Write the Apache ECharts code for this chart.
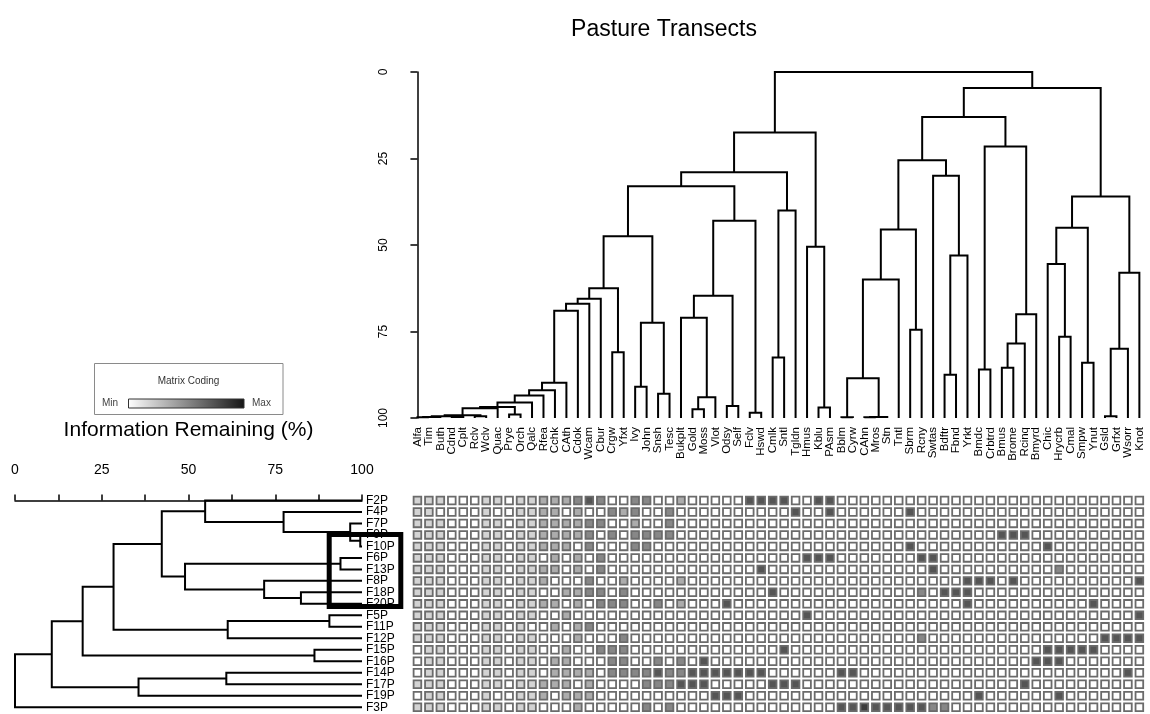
<!DOCTYPE html>
<html>
<head>
<meta charset="utf-8">
<script src="https://cdn.jsdelivr.net/npm/echarts@6/dist/echarts.min.js"></script>
<style>
  html, body { margin: 0; padding: 0; background: #ffffff; }
  #chart { width: 1150px; height: 714px; }
</style>
</head>
<body>
<div id="chart"></div>
<script>
// Species (matrix columns, top dendrogram leaves)
const species = [
  'Alfa','Tim','Buth','Cdnd','Cplt','Rclv','Wclv','Quac','Prye','Orch','Qalc','Rfea','Cchk','CAth','Cdok','Wcam',
  'Cbur','Crgw','Yfxt','Ivy','John','Snsh','Tesc','Bukplt','Gold','Moss','Vlot','Odsy','Self','Fclv','Hswd','Cmlk',
  'Sntl','Tgldn','Hmus','Kblu','PAsm','Bblm','Cyrw','CAhn','Mros','Stn','Tntl','Sbrm','Rcny','Swtas','Bdftr','Fbnd',
  'Yrkt','Bmdc','Crbtrd','Bmus','Brome','Rcinq','Bmyrd','Chic','Hrycrb','Cmal','Smpw','Ynut','Gsld','Grfxt','Wsorr','Knot'
];

// Transects (matrix rows, left dendrogram leaves)
const sites = ['F2P','F4P','F7P','F9P','F10P','F6P','F13P','F8P','F18P','F20P',
               'F5P','F11P','F12P','F15P','F16P','F14P','F17P','F19P','F3P'];

// Species clustering: [child, child, information remaining %]; numbers refer to earlier merges
const speciesMerges = [
  ['Alfa','Tim',99.8], [0,'Buth',99.7], ['Cdnd','Cplt',99.7], [1,2,99.5], ['Rclv','Wclv',99.5],
  [3,4,99.2], [5,'Quac',97.2], ['Prye','Orch',99.0], [6,7,96.8], [8,'Qalc',95.5],
  [9,'Rfea',93.5], [10,'Cchk',92.0], [11,'CAth',89.8], [12,'Cdok',69.0], [13,'Wcam',67.0],
  [14,'Cbur',65.5], ['Crgw','Yfxt',81.0], [15,16,62.5], ['Ivy','John',91.0], ['Snsh','Tesc',93.0],
  [18,19,72.5], [17,20,47.5], ['Gold','Moss',97.5], [22,'Vlot',94.0], ['Bukplt',23,71.0],
  ['Odsy','Self',96.5], [24,25,64.7], ['Fclv','Hswd',98.5], [26,27,43.0], [21,28,33.0],
  ['Cmlk','Sntl',82.5], [30,'Tgldn',40.0], [29,31,29.0], ['Kblu','PAsm',97.0], ['Hmus',33,50.5],
  [32,34,17.5], ['Bblm','Cyrw',99.8], ['CAhn','Mros',99.8], [37,'Stn',99.7], [36,38,88.5],
  [39,'Tntl',60.0], ['Sbrm','Rcny',74.5], [40,41,45.5], ['Bdftr','Fbnd',87.5], [43,'Yrkt',53.0],
  ['Swtas',44,30.0], [42,45,25.5], ['Bmdc','Crbtrd',86.0], ['Bmus','Brome',85.5], [48,'Rcinq',78.5],
  [49,'Bmyrd',70.0], [47,50,21.5], ['Hrycrb','Cmal',76.5], ['Chic',52,55.5], ['Smpw','Ynut',84.0],
  [53,54,45.0], ['Gsld','Grfxt',99.5], [56,'Wsorr',80.0], [57,'Knot',58.0], [55,58,36.0],
  [46,51,13.0], [60,59,4.6], [35,61,0.0]
];

// Transect clustering: [child, child, information remaining %]
const siteMerges = [
  ['F9P','F10P',99.5], ['F7P',0,96.6], ['F4P',1,77.4], ['F2P',2,54.8],
  ['F6P','F13P',93.8], ['F18P','F20P',82.4], ['F8P',5,71.8], [4,6,49.0],
  [3,7,42.3], ['F5P','F11P',90.6], [9,'F12P',61.3], [8,10,28.4],
  ['F15P','F16P',86.3], [11,12,19.5], ['F14P','F17P',60.9], [14,'F19P',35.6],
  [13,15,10.6], [16,'F3P',0.0]
];

// Cover class of each species in each transect (0 = absent ... 5 = highest)
const coverClass = [
  /* F2P  */ [1,1,1,0,0,0,1,1,0,1,1,2,2,2,3,4, 3,0,0,3,3,0,0,2,0,0,0,0,0,4,4,4, 4,0,0,4,4,0,0,0,0,0,0,0,0,0,0,0, 0,0,0,0,0,0,0,0,0,0,0,0,0,0,0,0],
  /* F4P  */ [1,1,0,0,0,0,1,0,0,1,1,2,2,0,2,0, 0,3,2,3,0,0,3,0,0,0,0,0,0,0,0,0, 0,4,0,0,4,0,0,0,0,0,0,4,0,0,0,0, 0,0,0,0,0,0,0,0,0,0,0,0,0,0,0,0],
  /* F7P  */ [1,1,1,0,0,0,1,1,0,1,1,2,2,2,2,3, 3,0,0,2,0,0,3,0,0,0,0,0,0,0,0,0, 0,0,0,0,0,0,0,0,0,0,0,0,0,0,0,0, 0,0,0,0,0,0,0,0,0,0,0,0,0,0,0,0],
  /* F9P  */ [1,1,1,0,0,0,1,1,0,1,1,2,2,2,2,3, 0,3,0,3,3,3,3,0,0,0,0,0,0,0,0,0, 0,0,0,0,0,0,0,0,0,0,0,0,0,0,0,0, 0,0,0,4,4,4,0,0,0,0,0,0,0,0,0,0],
  /* F10P */ [1,1,1,0,0,0,1,1,0,1,1,2,2,2,0,3, 0,0,0,3,3,0,0,0,0,0,0,0,0,0,0,0, 0,0,0,0,0,0,0,0,0,0,0,4,0,0,0,0, 0,0,0,0,0,0,0,4,0,0,0,0,0,0,0,0],
  /* F6P  */ [1,1,1,0,0,0,1,1,0,1,1,0,2,0,2,0, 3,0,0,0,0,0,0,0,0,0,0,0,0,0,0,0, 0,0,4,4,4,0,0,0,0,0,0,0,4,4,0,0, 0,0,0,0,0,0,0,0,0,0,0,0,0,0,0,0],
  /* F13P */ [1,1,1,0,0,0,1,1,0,1,1,2,2,0,2,0, 3,0,0,0,0,0,0,0,0,0,0,0,0,0,4,0, 0,0,0,0,0,0,0,0,0,0,0,0,0,4,0,0, 0,0,0,0,0,0,0,0,3,0,0,0,0,0,0,0],
  /* F8P  */ [1,1,1,0,0,0,1,1,0,1,1,2,0,0,0,3, 0,0,2,0,0,0,0,2,0,0,0,0,0,0,0,0, 0,0,0,0,0,0,0,0,0,0,0,0,0,0,0,0, 4,4,4,0,4,0,0,0,0,0,0,0,0,0,0,4],
  /* F18P */ [1,1,1,0,0,0,1,1,0,1,1,0,0,2,2,3, 3,0,3,0,0,0,0,0,0,0,0,0,0,0,0,4, 0,0,0,0,0,0,0,0,0,0,0,0,3,0,4,4, 4,0,0,0,0,0,0,0,0,0,0,0,0,0,0,0],
  /* F20P */ [1,1,1,0,0,0,1,1,0,1,1,2,2,0,2,0, 3,3,3,0,0,3,0,2,0,0,0,4,0,0,0,0, 0,0,0,0,0,0,0,0,0,0,0,0,0,0,0,0, 4,0,0,0,0,0,0,0,0,0,0,4,0,0,0,0],
  /* F5P  */ [1,1,1,0,0,0,1,1,0,1,1,0,0,2,0,0, 0,0,0,0,0,0,0,0,0,0,0,0,0,0,0,0, 0,0,4,0,0,0,0,0,0,0,0,0,0,0,0,0, 0,0,0,0,0,0,0,0,0,0,0,0,0,0,0,4],
  /* F11P */ [1,1,1,0,0,0,1,1,0,1,0,0,2,0,2,3, 0,0,0,0,0,0,0,0,0,0,0,0,0,0,0,0, 0,0,0,0,0,0,0,0,0,0,0,0,0,0,0,0, 0,0,0,0,0,0,0,0,0,0,0,0,0,0,0,0],
  /* F12P */ [1,1,1,0,0,0,1,1,0,1,1,0,0,0,2,0, 0,0,3,0,0,0,0,0,0,0,0,0,0,0,0,0, 0,0,0,0,0,0,0,0,0,0,0,0,3,0,0,0, 0,0,0,0,0,0,0,0,0,0,0,0,4,4,4,4],
  /* F15P */ [0,1,1,0,0,0,1,1,0,1,1,0,0,2,0,0, 3,3,3,0,0,0,0,0,0,0,0,0,0,0,0,0, 4,0,0,0,0,0,0,0,0,0,0,0,0,0,0,0, 0,0,0,0,0,0,0,4,4,4,4,4,0,0,0,0],
  /* F16P */ [0,1,1,0,0,0,1,1,0,1,1,0,2,2,0,0, 0,3,3,0,0,3,0,3,0,4,0,0,0,0,0,0, 0,0,0,0,0,0,0,0,0,0,0,0,0,0,0,0, 0,0,0,0,0,0,4,4,4,0,0,0,0,0,0,0],
  /* F14P */ [0,1,1,0,0,0,1,1,0,1,1,0,2,2,2,2, 0,3,3,3,3,4,3,3,4,4,4,4,4,4,4,0, 0,0,0,0,0,4,4,0,0,0,0,0,0,0,0,0, 0,0,0,0,0,0,0,0,0,0,0,0,0,0,4,0],
  /* F17P */ [1,1,1,0,0,0,1,1,0,1,1,2,2,2,0,2, 0,0,0,0,3,3,3,4,4,4,0,0,0,0,0,4, 4,4,0,0,0,0,0,0,0,0,0,0,0,0,0,0, 0,0,0,0,0,4,0,0,0,0,0,0,0,0,0,0],
  /* F19P */ [0,1,1,0,0,0,1,0,0,1,1,2,0,2,2,2, 0,0,0,0,0,0,0,0,0,0,4,4,4,0,0,0, 0,0,0,0,0,0,0,0,0,0,0,0,0,0,0,0, 0,4,0,0,0,0,0,0,4,0,0,0,0,0,0,0],
  /* F3P  */ [1,1,1,0,0,0,1,1,0,1,1,0,0,0,2,0, 0,0,0,0,3,0,3,0,0,0,0,0,0,0,0,0, 0,0,0,0,0,4,4,5,4,4,4,4,4,3,3,0, 0,0,0,0,0,0,0,0,0,0,0,0,0,0,0,0]
];

const infoTicks = [0, 25, 50, 75, 100];

// Grey ramp used for the cover classes
const shades = ['#ffffff', '#d3d3d3', '#acacac', '#878787', '#555555', '#3c3c3c'];
const FONT = '"Liberation Sans", Arial, Helvetica, sans-serif';

// Turn a merge list into link records [posA, heightA, height, posB, heightB]
function buildLinks(leaves, merges) {
  const pos = {}, height = {};
  leaves.forEach((name, i) => { pos[name] = i; height[name] = 100; });
  const key = ref => (typeof ref === 'number' ? 'm' + ref : ref);
  return merges.map(([a, b, h], k) => {
    const ka = key(a), kb = key(b);
    const link = [pos[ka], height[ka], h, pos[kb], height[kb]];
    pos['m' + k] = (pos[ka] + pos[kb]) / 2;
    height['m' + k] = h;
    return link;
  });
}

const speciesLinks = buildLinks(species, speciesMerges);
const siteLinks = buildLinks(sites, siteMerges);

const cells = [];
coverClass.forEach((row, r) => row.forEach((v, c) => cells.push([c, r, v])));

const chart = echarts.init(document.getElementById('chart'), null, { renderer: 'canvas' });

const GRID_LEFT = 411.7, GRID_W = 733.4, MAT_TOP = 494.7, MAT_H = 218.3;

const option = {
  backgroundColor: '#ffffff',
  animation: false,
  textStyle: { fontFamily: FONT },
  grid: [
    { left: GRID_LEFT, top: 72, width: GRID_W, height: 346 },          // species dendrogram
    { left: GRID_LEFT, top: MAT_TOP, width: GRID_W, height: MAT_H },    // matrix
    { left: 15, top: MAT_TOP, width: 347, height: MAT_H }               // transect dendrogram
  ],
  xAxis: [
    { type: 'value', gridIndex: 0, min: -0.5, max: 63.5, show: false, position: 'top' },
    {
      type: 'category', gridIndex: 0, data: species, position: 'bottom',
      axisLine: { show: false }, axisTick: { show: false },
      axisLabel: { interval: 0, rotate: 90, margin: 9, fontSize: 11.5, color: '#000', fontFamily: FONT }
    },
    { type: 'value', gridIndex: 1, min: -0.5, max: 63.5, show: false },
    {
      type: 'value', gridIndex: 2, min: 0, max: 100, interval: 12.5, position: 'top', offset: 10,
      axisLine: { show: true, lineStyle: { color: '#000', width: 1.5 } },
      axisTick: { show: true, length: 6, lineStyle: { color: '#000', width: 1.5 } },
      splitLine: { show: false },
      axisLabel: {
        margin: 8, fontSize: 14, color: '#000', fontFamily: FONT,
        formatter: v => (infoTicks.indexOf(v) >= 0 ? String(v) : '')
      },
      name: 'Information Remaining (%)', nameLocation: 'middle', nameGap: 44,
      nameTextStyle: { fontSize: 21, color: '#000', fontFamily: FONT }
    }
  ],
  yAxis: [
    {
      type: 'value', gridIndex: 0, min: 0, max: 100, interval: 25, inverse: true, position: 'left', offset: 11.7,
      axisLine: { show: true, lineStyle: { color: '#000', width: 1.5 } },
      axisTick: { show: true, length: 7, lineStyle: { color: '#000', width: 1.5 } },
      splitLine: { show: false },
      axisLabel: { rotate: 90, margin: 10, fontSize: 12, color: '#000', fontFamily: FONT }
    },
    { type: 'value', gridIndex: 1, min: -0.5, max: 18.5, inverse: true, show: false },
    { type: 'value', gridIndex: 2, min: -0.5, max: 18.5, inverse: true, show: false },
    {
      type: 'category', gridIndex: 2, data: sites, inverse: true, position: 'right',
      axisLine: { show: false }, axisTick: { show: false },
      axisLabel: { interval: 0, margin: 4, fontSize: 12, color: '#000', align: 'left', fontFamily: FONT }
    }
  ],
  series: [
    {
      name: 'species tree', type: 'custom', xAxisIndex: 0, yAxisIndex: 0, clip: false,
      data: speciesLinks,
      renderItem: (params, api) => {
        const pa = api.value(0), ha = api.value(1), h = api.value(2), pb = api.value(3), hb = api.value(4);
        return {
          type: 'polyline',
          shape: { points: [api.coord([pa, ha]), api.coord([pa, h]), api.coord([pb, h]), api.coord([pb, hb])] },
          style: { stroke: '#000', lineWidth: 2, fill: 'none' }
        };
      }
    },
    {
      name: 'cover', type: 'custom', xAxisIndex: 2, yAxisIndex: 1, clip: false,
      data: cells,
      renderItem: (params, api) => {
        const c = api.value(0), r = api.value(1), v = api.value(2);
        const p0 = api.coord([c - 0.5, r - 0.5]);
        const p1 = api.coord([c + 0.5, r + 0.5]);
        const inset = 1.9;
        return {
          type: 'rect',
          shape: { x: p0[0] + inset, y: p0[1] + inset, width: p1[0] - p0[0] - 2 * inset, height: p1[1] - p0[1] - 2 * inset },
          style: { fill: shades[v], stroke: '#6b6b6b', lineWidth: 1.8 }
        };
      }
    },
    {
      name: 'transect tree', type: 'custom', xAxisIndex: 3, yAxisIndex: 2, clip: false,
      data: siteLinks,
      renderItem: (params, api) => {
        const pa = api.value(0), ha = api.value(1), h = api.value(2), pb = api.value(3), hb = api.value(4);
        return {
          type: 'polyline',
          shape: { points: [api.coord([ha, pa]), api.coord([h, pa]), api.coord([h, pb]), api.coord([hb, pb])] },
          style: { stroke: '#000', lineWidth: 2, fill: 'none' }
        };
      }
    }
  ],
  graphic: [
    {
      type: 'text', x: 664, y: 30, z: 10,
      style: { text: 'Pasture Transects', align: 'center', verticalAlign: 'middle',
               font: '23px ' + FONT, fill: '#000' }
    },
    {
      type: 'group', z: 10,
      children: [
        { type: 'rect', shape: { x: 94.5, y: 363.5, width: 188.5, height: 51 },
          style: { fill: '#fff', stroke: '#8a8a8a', lineWidth: 1 } },
        { type: 'text', x: 188.5, y: 381, style: { text: 'Matrix Coding', align: 'center', verticalAlign: 'middle',
          font: '10px ' + FONT, fill: '#333' } },
        { type: 'text', x: 102, y: 403.5, style: { text: 'Min', align: 'left', verticalAlign: 'middle',
          font: '10px ' + FONT, fill: '#444' } },
        { type: 'rect', shape: { x: 128.5, y: 399, width: 115.5, height: 9 },
          style: { stroke: '#333', lineWidth: 1,
            fill: new echarts.graphic.LinearGradient(0, 0, 1, 0, [
              { offset: 0, color: '#ffffff' }, { offset: 1, color: '#151515' }
            ]) } },
        { type: 'text', x: 252, y: 403.5, style: { text: 'Max', align: 'left', verticalAlign: 'middle',
          font: '10px ' + FONT, fill: '#444' } }
      ]
    },
    {
      type: 'rect', z: 20,
      shape: { x: 329.2, y: 534.5, width: 71.6, height: 72 },
      style: { fill: 'none', stroke: '#000', lineWidth: 5 }
    }
  ]
};

chart.setOption(option);
</script>
</body>
</html>
